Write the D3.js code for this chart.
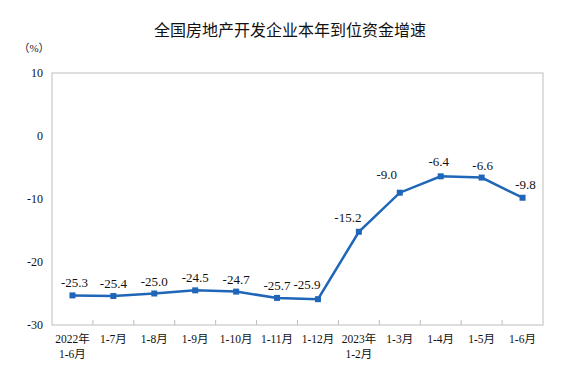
<!DOCTYPE html>
<html>
<head>
<meta charset="utf-8">
<script src="https://cdn.jsdelivr.net/npm/d3@7"></script>
<style>
  body { margin: 0; background: #fff; }
  svg { display: block; }
</style>
</head>
<body>
<div id="chart"></div>
<script>
// 数据
const categories = ['2022年\n1-6月', '1-7月', '1-8月', '1-9月', '1-10月', '1-11月', '1-12月',
  '2023年\n1-2月', '1-3月', '1-4月', '1-5月', '1-6月'];
const values = [-25.3, -25.4, -25.0, -24.5, -24.7, -25.7, -25.9, -15.2, -9.0, -6.4, -6.6, -9.8];
const yTicks = [10, 0, -10, -20, -30];
// label offsets [dx, dy] relative to point
const labelOffsets = [[2, -8], [0, -8], [0, -8], [0, -8], [0, -8], [0, -8], [-11, -10],
  [-11, -10], [-13, -14], [-2, -10], [1, -8], [3, -9]];

const width = 582, height = 380;
const margin = { top: 73, right: 39, bottom: 55, left: 52 };
const w = width - margin.left - margin.right;
const h = height - margin.top - margin.bottom;
const serif = '"Liberation Serif", "Noto Sans CJK SC", serif';

const svg = d3.select('#chart').append('svg')
  .attr('width', width).attr('height', height);

svg.append('text')
  .attr('x', 290).attr('y', 36)
  .attr('text-anchor', 'middle')
  .attr('font-family', '"Noto Sans CJK SC", sans-serif')
  .attr('font-size', 16)
  .attr('fill', '#111')
  .text('全国房地产开发企业本年到位资金增速');

svg.append('text')
  .attr('x', 34).attr('y', 52)
  .attr('text-anchor', 'middle')
  .attr('font-family', serif)
  .attr('font-size', 11)
  .attr('fill', '#222')
  .text('（%）');

const g = svg.append('g').attr('transform', `translate(${margin.left},${margin.top})`);

const x = d3.scaleBand().domain(d3.range(categories.length)).range([0, w]);
const y = d3.scaleLinear().domain([-30, 10]).range([h, 0]);

// frame
g.append('rect')
  .attr('width', w).attr('height', h)
  .attr('fill', 'none').attr('stroke', '#bdbdbd').attr('stroke-width', 1);

// x ticks at band edges, pointing up
g.selectAll('.xtick')
  .data(d3.range(1, categories.length))
  .enter().append('line')
  .attr('x1', d => x(d)).attr('x2', d => x(d))
  .attr('y1', h).attr('y2', h - 5)
  .attr('stroke', '#bdbdbd');

// y labels
g.selectAll('.ylab')
  .data(yTicks)
  .enter().append('text')
  .attr('x', -9).attr('y', d => y(d))
  .attr('dy', '0.35em')
  .attr('text-anchor', 'end')
  .attr('font-family', serif)
  .attr('font-size', 12)
  .attr('fill', '#111')
  .text(d => d);

// x labels
const xl = g.selectAll('.xlab')
  .data(categories)
  .enter().append('text')
  .attr('text-anchor', 'middle')
  .attr('font-family', serif)
  .attr('font-size', 11.5)
  .attr('fill', '#111')
  .attr('transform', (d, i) => `translate(${x(i) + x.bandwidth() / 2},${h + 18})`);
xl.selectAll('tspan')
  .data(d => d.split('\n'))
  .enter().append('tspan')
  .attr('x', 0)
  .attr('dy', (d, i) => i === 0 ? 0 : 15)
  .text(d => d);

const cx = i => x(i) + x.bandwidth() / 2;

g.append('path')
  .datum(values)
  .attr('fill', 'none')
  .attr('stroke', '#1f66b8')
  .attr('stroke-width', 2.5)
  .attr('d', d3.line().x((d, i) => cx(i)).y(d => y(d)));

g.selectAll('.pt')
  .data(values)
  .enter().append('rect')
  .attr('x', (d, i) => cx(i) - 3)
  .attr('y', d => y(d) - 3)
  .attr('width', 6).attr('height', 6)
  .attr('fill', '#1f66b8');

g.selectAll('.vlab')
  .data(values)
  .enter().append('text')
  .attr('x', (d, i) => cx(i) + labelOffsets[i][0])
  .attr('y', (d, i) => y(d) + labelOffsets[i][1])
  .attr('text-anchor', 'middle')
  .attr('font-family', serif)
  .attr('font-size', 13)
  .attr('fill', '#111')
  .text(d => d.toFixed(1));
</script>
</body>
</html>
